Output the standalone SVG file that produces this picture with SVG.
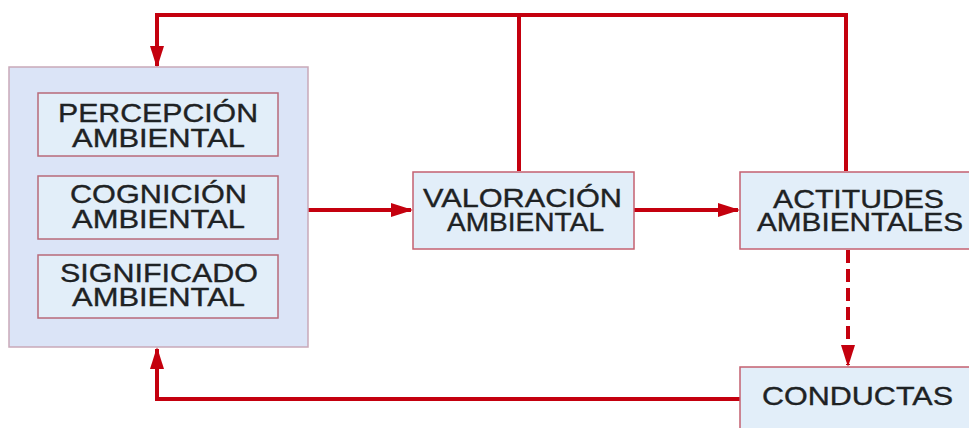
<svg xmlns="http://www.w3.org/2000/svg" width="969" height="428" viewBox="0 0 969 428">
<style>
.outer{fill:#dbe4f7;stroke:#c9a9b9;stroke-width:1.5}
.inner{fill:#e2eef9;stroke:#b86a7a;stroke-width:1.5}
.box{fill:#e2eef9;stroke:#c46070;stroke-width:1.5}
.t{font-family:"Liberation Sans",Arial,sans-serif;font-size:25.5px;fill:#1e2224;stroke:#1e2224;stroke-width:0.35;text-anchor:start}
.ln{fill:none;stroke:#c4000e;stroke-width:4}
.dash{stroke-dasharray:13 6}
</style>
<defs>
<marker id="ah" markerUnits="userSpaceOnUse" markerWidth="22" markerHeight="14" refX="20" refY="7" orient="auto">
<path d="M0,0 L22,7 L0,14 Z" fill="#c4000e"/>
</marker>
</defs>
<rect width="969" height="428" fill="#ffffff"/>
<g id="connectors">
<path class="ln" d="M157,15 H846" stroke-linecap="square"/>
<path class="ln" d="M157,13 V66" marker-end="url(#ah)"/>
<path class="ln" d="M519,15 V171"/>
<path class="ln" d="M846,13 V171"/>
<path class="ln" d="M308,210 H411" marker-end="url(#ah)"/>
<path class="ln" d="M634,210 H738" marker-end="url(#ah)"/>
<path class="ln dash" d="M848,250 V365" marker-end="url(#ah)"/>
<path class="ln" d="M740,399 H157 V349" marker-end="url(#ah)"/>
</g>
<g id="grupo">
<rect class="outer" x="9" y="67" width="299" height="280"/>
</g>
<g id="percepcion">
<rect class="inner" x="38" y="93" width="240" height="63"/>
<text class="t" x="58" y="122" textLength="200" lengthAdjust="spacingAndGlyphs">PERCEPCIÓN</text>
<text class="t" x="72" y="146.5" textLength="173" lengthAdjust="spacingAndGlyphs">AMBIENTAL</text>
</g>
<g id="cognicion">
<rect class="inner" x="38" y="176" width="240" height="63"/>
<text class="t" x="70" y="203" textLength="177" lengthAdjust="spacingAndGlyphs">COGNICIÓN</text>
<text class="t" x="72" y="227.5" textLength="173" lengthAdjust="spacingAndGlyphs">AMBIENTAL</text>
</g>
<g id="significado">
<rect class="inner" x="38" y="255" width="240" height="63"/>
<text class="t" x="60" y="282" textLength="198" lengthAdjust="spacingAndGlyphs">SIGNIFICADO</text>
<text class="t" x="72" y="306" textLength="173" lengthAdjust="spacingAndGlyphs">AMBIENTAL</text>
</g>
<g id="valoracion">
<rect class="box" x="413" y="172" width="221" height="77"/>
<text class="t" x="423" y="207" textLength="199" lengthAdjust="spacingAndGlyphs">VALORACIÓN</text>
<text class="t" x="447" y="230.5" textLength="157" lengthAdjust="spacingAndGlyphs">AMBIENTAL</text>
</g>
<g id="actitudes">
<rect class="box" x="740" y="172" width="240" height="77"/>
<text class="t" x="773" y="208" textLength="171" lengthAdjust="spacingAndGlyphs">ACTITUDES</text>
<text class="t" x="757" y="230.5" textLength="206" lengthAdjust="spacingAndGlyphs">AMBIENTALES</text>
</g>
<g id="conductas">
<rect class="box" x="740" y="367" width="240" height="70"/>
<text class="t" x="762" y="405" textLength="191" lengthAdjust="spacingAndGlyphs">CONDUCTAS</text>
</g>
</svg>
